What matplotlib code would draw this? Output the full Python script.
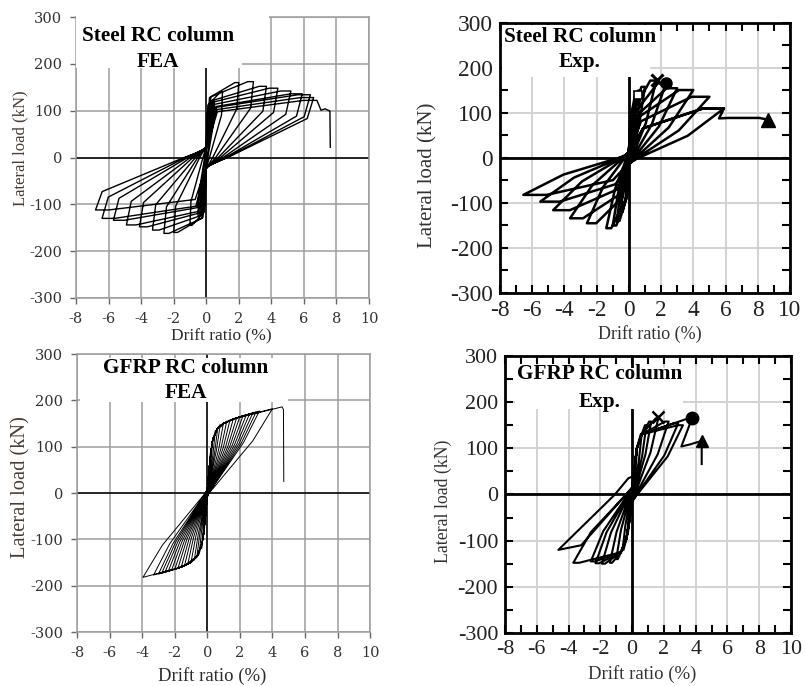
import matplotlib
matplotlib.use('Agg')
import matplotlib.pyplot as plt
from matplotlib.patches import Rectangle
from matplotlib.ticker import MultipleLocator

plt.rcParams['font.family'] = 'Liberation Serif'
plt.rcParams['axes.unicode_minus'] = False

# ---- Steel RC column, FEA: cycle peaks (drift %, load kN) ----
steel_fea_pos_drift = [0.25, 0.5, 1.0, 2.0, 2.9, 3.7, 4.4, 5.2, 5.9, 6.4, 6.6]
steel_fea_pos_load = [75, 120, 140, 160, 162, 152, 148, 142, 136, 134, 128]
steel_fea_neg_drift = [-0.25, -0.5, -1.0, -2.0, -2.6, -3.3, -4.1, -4.9, -5.7, -6.4, -6.8]
steel_fea_neg_load = [-80, -125, -145, -160, -162, -155, -148, -144, -134, -130, -112]
steel_fea_tail_drift = [6.8, 7.05, 7.3, 7.6, 7.62]
steel_fea_tail_load = [122, 101, 104, 99, 22]

# ---- Steel RC column, test ----
steel_exp_pos_drift = [0.25, 0.5, 0.75, 1.0, 1.7, 2.3, 3.0, 4.0, 5.0, 5.9]
steel_exp_pos_load = [70, 140, 150, 158, 172, 166, 155, 151, 136, 110]
steel_exp_neg_drift = [-0.25, -0.5, -0.75, -1.0, -1.4, -2.6, -3.65, -4.7, -5.5, -6.55]
steel_exp_neg_load = [-70, -120, -140, -150, -156, -145, -134, -116, -97, -82]
steel_exp_tail_drift = [5.9, 5.6, 6.2, 8.1, 8.65]
steel_exp_tail_load = [110, 88, 89, 89, 85]
steel_exp_cross = (1.72, 173)
steel_exp_dot = (2.3, 166)
steel_exp_tri = (8.65, 85)
steel_exp_square = (0.55, 140)

# ---- GFRP RC column, FEA ----
gfrp_fea_pos_drift = [0.2, 0.35, 0.5, 0.65, 0.8, 1.0, 1.2, 1.4, 1.6, 1.8, 2.0,
                      2.2, 2.4, 2.6, 2.8, 3.0, 3.2, 4.0]
gfrp_fea_pos_load = [90, 120, 135, 142, 148, 152, 155, 158, 160, 162, 165,
                     167, 169, 171, 173, 175, 177, 182]
gfrp_fea_neg_drift = [-0.2, -0.35, -0.5, -0.65, -0.8, -1.0, -1.2, -1.4, -1.6, -1.8, -2.0,
                      -2.2, -2.4, -2.6, -2.8, -3.0, -3.3, -3.95]
gfrp_fea_neg_load = [-90, -120, -132, -140, -145, -150, -154, -157, -160, -162, -165,
                     -167, -169, -171, -173, -175, -177, -182]
gfrp_fea_bb_pos = [(0.12, 55), (0.3, 110), (0.6, 138), (1.0, 150), (1.6, 160)]
gfrp_fea_bb_neg = [(-0.12, -55), (-0.3, -105), (-0.6, -135), (-1.0, -150), (-1.6, -160)]
gfrp_fea_tail_drift = [4.6, 4.68, 4.7]
gfrp_fea_tail_load = [186, 180, 25]

# ---- GFRP RC column, test ----
gfrp_exp_pos_drift = [0.3, 0.6, 0.9, 1.2, 1.65, 2.3, 2.9, 3.2]
gfrp_exp_pos_load = [95, 130, 150, 158, 165, 158, 154, 150]
gfrp_exp_neg_drift = [-0.3, -0.6, -1.0, -1.4, -1.9, -2.3, -2.6, -3.7]
gfrp_exp_neg_load = [-85, -120, -140, -148, -150, -149, -145, -148]
gfrp_exp_bb_pos = [(0.1, 40), (0.3, 100), (0.6, 130)]
gfrp_exp_bb_neg = [(-0.1, -40), (-0.35, -95), (-0.7, -125)]
gfrp_exp_last_drift = [-3.2, -4.64, -1.08, -0.24]
gfrp_exp_last_load = [-110, -120, 0, 35]
gfrp_exp_tail_drift = [3.75, 3.1, 3.6, 4.38, 4.38]
gfrp_exp_tail_load = [163, 104, 108, 116, 66]
gfrp_exp_cross = (1.65, 168)
gfrp_exp_dot = (3.75, 165)
gfrp_exp_tri = (4.38, 116)

# loop shape: plateau, unload drift fraction, unload load fraction,
# zero-crossing fraction, pinching, reload point (drift frac, load frac)
shape_steel_fea = (0.12, 0.06, 0.65, 0.2, 0.15, (0.1, 0.8))
shape_steel_exp = (0.22, 0.38, 0.45, 0.1, 0.1, (0.15, 0.6))
shape_gfrp_fea = (0.0, 0.3, 0.62, 0.03, 0.05, None)
shape_gfrp_exp = (0.1, 0.3, 0.55, 0.1, 0.1, None)


def loop_path(pos_d, pos_p, neg_d, neg_p, bb_pos, bb_neg, shape, extra=None):
    pl, a, f, z, pinch, reload = shape
    xs, ys = [0.0], [0.0]

    def load(d, p, bb):
        last = 0.0
        if reload is not None:
            xs.append(reload[0] * d)
            ys.append(reload[1] * p)
            last = abs(reload[0] * d)
        for bd, bp in bb:
            if abs(bd) < 0.9 * abs(d) and abs(bp) < 0.95 * abs(p):
                xs.append(bd)
                ys.append(bp)
                last = abs(bd)
        if pl > 0 and abs(d) * (1 - pl) > last:
            xs.append(d * (1 - pl))
            ys.append(p)
        xs.append(d)
        ys.append(p)

    def unload(d, p):
        xs.extend([d * (1 - a), z * d, 0.0])
        ys.extend([f * p, 0.0, -pinch * p])

    for dp, pp, dn, pn in zip(pos_d, pos_p, neg_d, neg_p):
        load(dp, pp, bb_pos)
        unload(dp, pp)
        load(dn, pn, bb_neg)
        unload(dn, pn)
    if extra is not None:
        xs.extend(extra[0])
        ys.extend(extra[1])
    return xs, ys, load


def add_tail(xs, ys, load, tail_d, tail_p, bb):
    load(tail_d[0], tail_p[0], bb)
    xs.extend(tail_d[1:])
    ys.extend(tail_p[1:])


def style_fea(ax):
    ax.set_xlim(-8, 10)
    ax.set_ylim(-300, 300)
    ax.set_xticks(range(-8, 11, 2))
    ax.set_yticks(range(-300, 301, 100))
    ax.grid(True, color='#9c9c9c', lw=1.1)
    ax.set_axisbelow(True)
    for s in ax.spines.values():
        s.set_color('#9c9c9c')
        s.set_linewidth(1.1)
    ax.axhline(0, color='black', lw=1.1, zorder=1.5)
    ax.axvline(0, color='black', lw=1.1, zorder=1.5)
    ax.tick_params(direction='out', length=4, width=1, color='#666666',
                   labelsize=10.5, pad=6, labelcolor='#333333',
                   labelfontfamily='DejaVu Serif')


def style_exp(ax, size):
    ax.set_xlim(-8, 10)
    ax.set_ylim(-300, 300)
    ax.set_xticks(range(-8, 11, 2))
    ax.set_yticks(range(-300, 301, 100))
    ax.xaxis.set_minor_locator(MultipleLocator(1))
    ax.yaxis.set_minor_locator(MultipleLocator(50))
    ax.grid(True, color='#d2d2d2', lw=1.4)
    ax.set_axisbelow(True)
    for s in ax.spines.values():
        s.set_color('black')
        s.set_linewidth(2)
    ax.axhline(0, color='black', lw=2, zorder=1.5)
    ax.axvline(0, color='black', lw=2, zorder=1.5)
    ax.tick_params(which='both', direction='in', top=True, right=True,
                   length=6, width=1.5, labelsize=size, pad=5, labelcolor='#222222')


def title_box(ax, rects, lines, xc, ys_):
    for (x0, y0, w, h) in rects:
        ax.add_patch(Rectangle((x0, y0), w, h, transform=ax.transAxes,
                               facecolor='white', edgecolor='none',
                               zorder=5, clip_on=False))
    for txt, yy in zip(lines, ys_):
        ax.text(xc, yy, txt, transform=ax.transAxes, ha='center', va='center',
                fontsize=15.3, fontweight='bold', zorder=6)


fig = plt.figure(figsize=(8.05, 6.86), dpi=100)

# Steel, FEA
ax1 = fig.add_axes([0.0944, 0.5656, 0.364, 0.4096])
style_fea(ax1)
x, y, ld = loop_path(steel_fea_pos_drift, steel_fea_pos_load,
                     steel_fea_neg_drift, steel_fea_neg_load,
                     [], [], shape_steel_fea)
add_tail(x, y, ld, steel_fea_tail_drift, steel_fea_tail_load, [])
ax1.plot(x, y, color='black', lw=1.0, zorder=3)
title_box(ax1, [(0, 0.818, 0.567, 0.19), (0.567, 0.893, 0.09, 0.115)],
          ['Steel RC column', 'FEA'], 0.28, [0.932, 0.84])
ax1.set_ylabel('Lateral load (kN)', fontsize=12, color='#4a3c30')
ax1.yaxis.set_label_coords(-0.164, 0.534)
ax1.set_xlabel('Drift ratio (%)', fontsize=12.5, color='#2a2a2a')
ax1.xaxis.set_label_coords(0.495, -0.108)

# Steel, test
ax2 = fig.add_axes([0.6211, 0.5729, 0.3602, 0.3936])
style_exp(ax2, 16.8)
x, y, ld = loop_path(steel_exp_pos_drift, steel_exp_pos_load,
                     steel_exp_neg_drift, steel_exp_neg_load,
                     [], [], shape_steel_exp)
add_tail(x, y, ld, steel_exp_tail_drift, steel_exp_tail_load, [])
ax2.plot(x, y, color='black', lw=1.8, zorder=3)
ax2.plot(*steel_exp_cross, marker='x', ms=9, mew=2.2, color='black', zorder=4)
ax2.plot(*steel_exp_dot, marker='o', ms=8, color='black', zorder=4)
ax2.plot(*steel_exp_tri, marker='^', ms=10, color='black', zorder=4)
ax2.plot(*steel_exp_square, marker='s', ms=6, mfc='white', mec='black', mew=1.2, zorder=4)
title_box(ax2, [(0.006, 0.8, 0.51, 0.193)],
          ['Steel RC column', 'Exp.'], 0.276, [0.948, 0.856])
ax2.set_ylabel('Lateral load (kN)', fontsize=15, color='#333333')
ax2.yaxis.set_label_coords(-0.214, 0.435)
ax2.set_xlabel('Drift ratio (%)', fontsize=13, color='#333333')
ax2.xaxis.set_label_coords(0.517, -0.119)

# GFRP, FEA
ax3 = fig.add_axes([0.0957, 0.0787, 0.364, 0.4052])
style_fea(ax3)
x, y, ld = loop_path(gfrp_fea_pos_drift, gfrp_fea_pos_load,
                     gfrp_fea_neg_drift, gfrp_fea_neg_load,
                     gfrp_fea_bb_pos, gfrp_fea_bb_neg, shape_gfrp_fea)
add_tail(x, y, ld, gfrp_fea_tail_drift, gfrp_fea_tail_load, gfrp_fea_bb_pos)
ax3.plot(x, y, color='black', lw=0.7, zorder=3)
title_box(ax3, [(0.01, 0.827, 0.71, 0.159)],
          ['GFRP RC column', 'FEA'], 0.372, [0.95, 0.86])
ax3.set_ylabel('Lateral load (kN)', fontsize=14.8, color='#4a3c30')
ax3.yaxis.set_label_coords(-0.16, 0.523)
ax3.set_xlabel('Drift ratio (%)', fontsize=13.5, color='#2a2a2a')
ax3.xaxis.set_label_coords(0.46, -0.126)

# GFRP, test
ax4 = fig.add_axes([0.6273, 0.0773, 0.3553, 0.4038])
style_exp(ax4, 15.8)
x, y, ld = loop_path(gfrp_exp_pos_drift, gfrp_exp_pos_load,
                     gfrp_exp_neg_drift, gfrp_exp_neg_load,
                     gfrp_exp_bb_pos, gfrp_exp_bb_neg, shape_gfrp_exp,
                     extra=(gfrp_exp_last_drift, gfrp_exp_last_load))
add_tail(x, y, ld, gfrp_exp_tail_drift, gfrp_exp_tail_load, gfrp_exp_bb_pos)
ax4.plot(x, y, color='black', lw=1.5, zorder=3)
ax4.plot(*gfrp_exp_cross, marker='x', ms=9, mew=1.8, color='black', zorder=4)
ax4.plot(*gfrp_exp_dot, marker='o', ms=9, color='black', zorder=4)
ax4.plot(*gfrp_exp_tri, marker='^', ms=9, color='black', zorder=4)
title_box(ax4, [(0.035, 0.809, 0.587, 0.148)],
          ['GFRP RC column', 'Exp.'], 0.332, [0.935, 0.834])
ax4.set_ylabel('Lateral load (kN)', fontsize=12.8, color='#333333')
ax4.yaxis.set_label_coords(-0.185, 0.474)
ax4.set_xlabel('Drift ratio (%)', fontsize=13.5, color='#333333')
ax4.xaxis.set_label_coords(0.479, -0.116)

fig.savefig('out.png', dpi=100)
